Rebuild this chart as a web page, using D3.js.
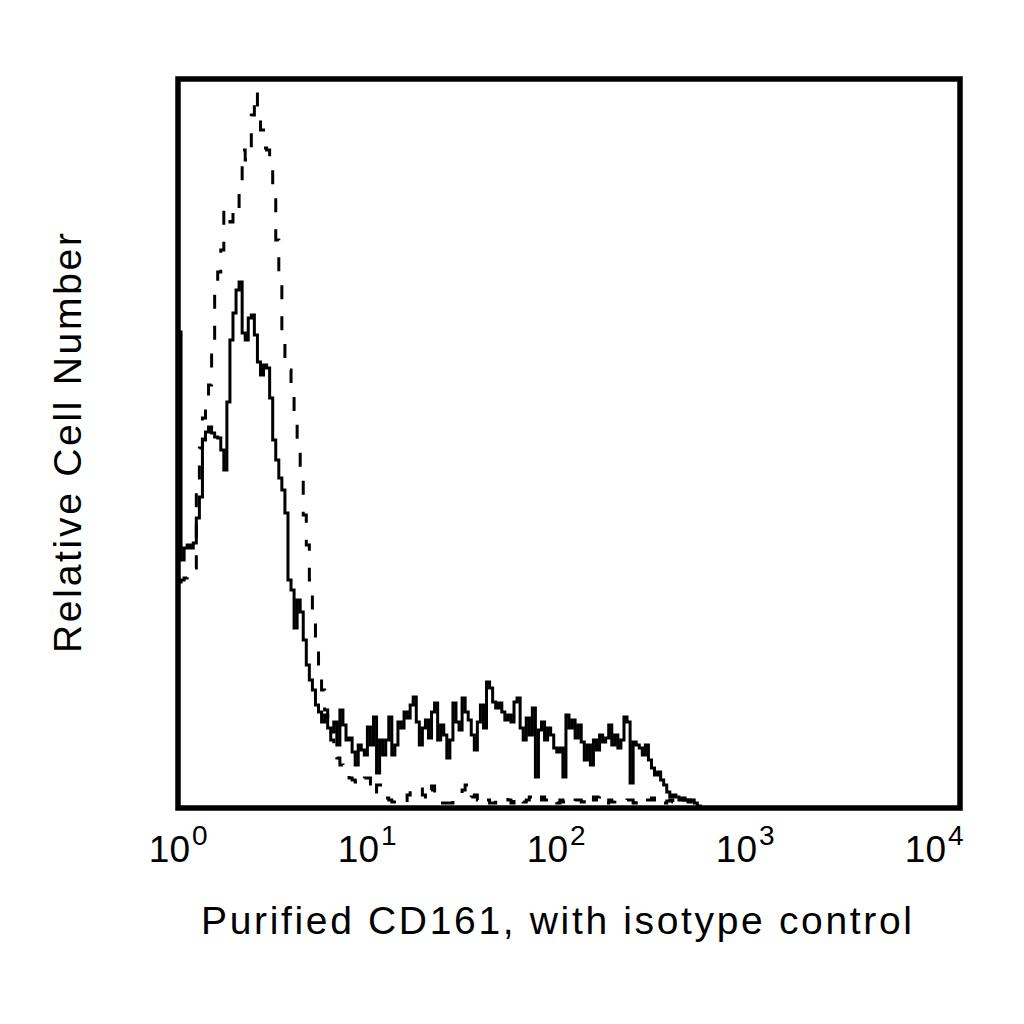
<!DOCTYPE html>
<html>
<head>
<meta charset="utf-8">
<script src="https://cdn.jsdelivr.net/npm/d3@7"></script>
<style>
  body { margin: 0; background: #fff; }
  text { font-family: "Liberation Sans", Arial, sans-serif; fill: #000; }
</style>
</head>
<body>
<div id="chart"></div>
<script>
// 256 channels over 4 decades, 64 per decade; counts
const channelsPerDecade = 64

// CD161 stained (solid)
const solidCounts = [
  476, 248, 260, 263, 260, 265, 290, 311, 368, 376,
  381, 375, 371, 370, 358, 338, 406, 468, 495, 518,
  526, 475, 468, 490, 493, 473, 446, 433, 443, 440,
  410, 368, 348, 330, 318, 295, 228, 218, 180, 208,
  196, 168, 143, 128, 118, 103, 96, 86, 93, 80,
  76, 86, 63, 98, 83, 68, 70, 56, 43, 63,
  58, 53, 81, 63, 91, 35, 68, 53, 68, 91,
  53, 63, 86, 80, 96, 90, 103, 111, 86, 63,
  80, 88, 70, 96, 105, 68, 83, 73, 50, 68,
  105, 86, 78, 110, 96, 88, 73, 58, 86, 103,
  80, 126, 120, 106, 100, 105, 96, 88, 93, 86,
  106, 110, 80, 68, 90, 73, 100, 31, 78, 86,
  68, 80, 73, 60, 56, 60, 31, 93, 80, 88,
  70, 83, 66, 48, 63, 43, 68, 58, 73, 66,
  70, 83, 63, 73, 60, 68, 91, 86, 25, 66,
  63, 60, 53, 63, 48, 40, 33, 36, 28, 23,
  16, 11, 13, 11, 8, 10, 8, 7, 8, 5, 2, 0
]

// isotype control (dashed)
const isotypeCounts = [
  226, 228, 230, 233, 236, 240, 330, 360, 390, 403,
  423, 463, 518, 536, 558, 598, 594, 586, 596, 593,
  623, 658, 648, 658, 693, 716, 690, 678, 660, 658,
  648, 613, 568, 523, 473, 448, 438, 418, 388, 358,
  328, 293, 263, 228, 196, 168, 140, 118, 98, 83,
  68, 58, 50, 43, 38, 33, 30, 28, 26, 23,
  28, 30, 30, 18, 13, 23, 23, 18, 10, 8,
  6, 6, 8, 8, 5, 13, 20, 20, 18, 19,
  13, 8, 18, 22, 13, 8, 5, 5, 5, 5,
  8, 11, 13, 18, 23, 10, 11, 13, 8, 11,
  12, 8, 5, 5, 8, 7, 8, 10, 8, 5,
  8, 11, 8, 6, 8, 11, 8, 5, 8, 11,
  8, 8, 11, 8, 5, 8, 6, 8, 8, 5,
  8, 8, 6, 8, 5, 11, 8, 11, 13, 8,
  5, 8, 6, 8, 8, 8, 6, 8, 8, 5,
  8, 8, 5, 8, 8, 10, 5, 8, 8, 5,
  7, 8, 6, 8, 5, 8, 8, 6, 8, 5, 2, 0
]

const tickExponents = [0, 1, 2, 3, 4]
const xTitle = "Purified CD161, with isotype control"
const yTitle = "Relative Cell Number"

const width = 1024, height = 1024
const plot = {left: 178, right: 960, top: 79, bottom: 808}

const svg = d3.select("#chart").append("svg")
    .attr("width", width)
    .attr("height", height)

const x = d3.scaleLog().domain([1, 1e4]).range([plot.left, plot.right])
const y = d3.scaleLinear().domain([0, 729]).range([plot.bottom, plot.top])

function toPoints(counts) {
    let pts = counts.map((c, i) => [Math.pow(10, i / channelsPerDecade), c])
    pts.push([Math.pow(10, counts.length / channelsPerDecade), counts[counts.length - 1]])
    return pts
}

const line = d3.line()
    .x(d => x(d[0]))
    .y(d => y(d[1]))
    .curve(d3.curveStepAfter)

svg.append("path")
    .datum(toPoints(isotypeCounts))
    .attr("d", line)
    .attr("fill", "none")
    .attr("stroke", "#000")
    .attr("stroke-width", 3)
    .attr("stroke-dasharray", "14,17")

svg.append("path")
    .datum(toPoints(solidCounts))
    .attr("d", line)
    .attr("fill", "none")
    .attr("stroke", "#000")
    .attr("stroke-width", 3)

// frame
svg.append("rect")
    .attr("x", plot.left)
    .attr("y", plot.top)
    .attr("width", plot.right - plot.left)
    .attr("height", plot.bottom - plot.top)
    .attr("fill", "none")
    .attr("stroke", "#000")
    .attr("stroke-width", 5.5)

// tick labels sit a little inside the decade positions in the original
const labelX = d3.scaleLinear().domain([0, 4]).range([190, 946])
let ticks = svg.append("g").selectAll("g")
    .data(tickExponents)
    .enter().append("g")
ticks.append("text")
    .attr("x", d => labelX(d))
    .attr("y", 862)
    .attr("text-anchor", "end")
    .style("font-size", "37px")
    .text("10")
ticks.append("text")
    .attr("x", d => labelX(d) + 2)
    .attr("y", 845)
    .style("font-size", "28px")
    .text(d => d)

svg.append("text")
    .attr("x", 201)
    .attr("y", 934)
    .attr("textLength", 711)
    .style("font-size", "39px")
    .text(xTitle)

svg.append("text")
    .attr("transform", "translate(81,443) rotate(-90)")
    .attr("text-anchor", "middle")
    .attr("textLength", 420)
    .style("font-size", "39px")
    .text(yTitle)
</script>
</body>
</html>
